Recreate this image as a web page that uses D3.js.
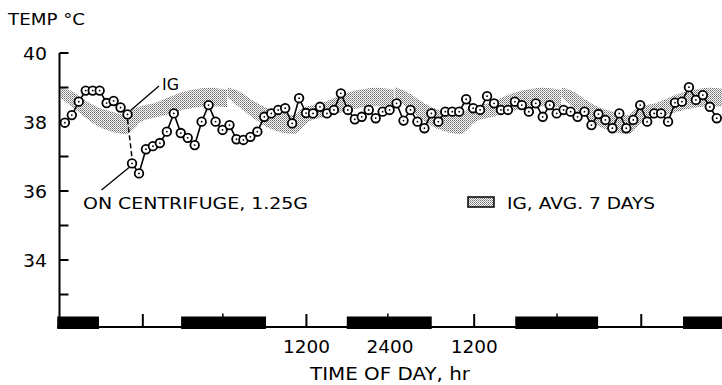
<!DOCTYPE html>
<html><head><meta charset="utf-8">
<script src="https://cdn.jsdelivr.net/npm/d3@7"></script>
<style>
html,body{margin:0;padding:0;background:#fff;}
svg{display:block;}
text{font-family:"DejaVu Sans",sans-serif;fill:#000;}
</style>
</head><body>
<svg id="chart" width="722" height="385"></svg>
<script>
// ---------- DATA ----------
// IG (1 G) readings before centrifugation, hours from midnight of day 1
const igHours = [1.1, 2.1, 3.1, 4.1, 5.1, 6.1, 7.1, 8.1, 9.1, 10.1];
const igTemps = [37.98, 38.20, 38.59, 38.91, 38.91, 38.91, 38.55, 38.61, 38.42, 38.22];

// On centrifuge 1.25 G, hourly readings
const centHours = [10.75, 11.75, 12.75, 13.75, 14.75, 15.75, 16.75, 17.75, 18.75, 19.75,
  20.75, 21.75, 22.75, 23.75, 24.75, 25.75, 26.75, 27.75, 28.75, 29.75,
  30.75, 31.75, 32.75, 33.75, 34.75, 35.75, 36.75, 37.75, 38.75, 39.75,
  40.75, 41.75, 42.75, 43.75, 44.75, 45.75, 46.75, 47.75, 48.75, 49.75,
  50.75, 51.75, 52.75, 53.75, 54.75, 55.75, 56.75, 57.75, 58.75, 59.75,
  60.75, 61.75, 62.75, 63.75, 64.75, 65.75, 66.75, 67.75, 68.75, 69.75,
  70.75, 71.75, 72.75, 73.75, 74.75, 75.75, 76.75, 77.75, 78.75, 79.75,
  80.75, 81.75, 82.75, 83.75, 84.75, 85.75, 86.75, 87.75, 88.75, 89.75,
  90.75, 91.75, 92.75, 93.75, 94.75];
const centTemps = [36.80, 36.51, 37.21, 37.30, 37.39, 37.72, 38.25, 37.68, 37.54, 37.33,
  38.01, 38.49, 38.01, 37.77, 37.91, 37.50, 37.48, 37.57, 37.72, 38.15,
  38.25, 38.35, 38.40, 37.96, 38.69, 38.26, 38.25, 38.44, 38.25, 38.35,
  38.83, 38.35, 38.08, 38.15, 38.35, 38.11, 38.30, 38.35, 38.54, 38.04,
  38.35, 38.01, 37.82, 38.25, 38.01, 38.30, 38.30, 38.30, 38.66, 38.40,
  38.35, 38.75, 38.54, 38.35, 38.35, 38.59, 38.49, 38.30, 38.54, 38.15,
  38.49, 38.25, 38.35, 38.30, 38.15, 38.30, 37.91, 38.23, 38.06, 37.82,
  38.25, 37.82, 38.06, 38.49, 38.01, 38.25, 38.25, 38.01, 38.56, 38.59,
  39.01, 38.64, 38.78, 38.44, 38.11];

// IG 7-day average daily profile (band), repeated each day
const bandProfileHours = [0.5, 2, 4, 6, 8, 10, 11, 12, 14, 16, 18, 20, 22, 24.4];
const bandHigh = [39.01, 38.90, 38.64, 38.41, 38.29, 38.20, 38.38, 38.46, 38.55, 38.72, 38.87, 38.96, 38.99, 38.93];
const bandLow  = [38.70, 38.46, 38.14, 37.86, 37.71, 37.65, 37.80, 38.00, 38.12, 38.23, 38.35, 38.43, 38.46, 38.43];
const bandDayOffsets = [0, 24, 48, 72];

// Light / dark schedule (hours)
const darkStarts = [0, 17.8, 41.6, 65.8, 89.9];
const darkEnds   = [6.0, 30.0, 53.8, 77.7, 96];
const noonMarks = [12.3, 35.8, 59.9, 83.9];
const midnightMarks = [23.8, 47.5, 71.8];

// Axis ticks & labels
const yMajorTicks = [34, 36, 38, 40];
const yMinorTicks = [33, 35, 37, 39];
const xLabelHours = [35.8, 47.8, 59.9];
const xLabelTexts = ["1200", "2400", "1200"];

// ---------- DRAW ----------
const svg = d3.select("#chart");
svg.append("rect").attr("width", 722).attr("height", 385).attr("fill", "#fff");

const x = d3.scaleLinear().domain([0, 95.5]).range([57.2, 722]);
const y = d3.scaleLinear().domain([32, 40]).range([329, 53]);

// stipple pattern
const defs = svg.append("defs");
const pat = defs.append("pattern").attr("id", "stip").attr("width", 2).attr("height", 2)
  .attr("patternUnits", "userSpaceOnUse");
pat.append("rect").attr("width", 2).attr("height", 2).attr("fill", "#fff");
pat.append("rect").attr("x", 0).attr("y", 0).attr("width", 1).attr("height", 1).attr("fill", "#6a6a6a").attr("shape-rendering", "crispEdges");
pat.append("rect").attr("x", 1).attr("y", 1).attr("width", 1).attr("height", 1).attr("fill", "#9a9a9a").attr("shape-rendering", "crispEdges");

// band
const bandPts = bandProfileHours.map((h, i) => ({h, hi: bandHigh[i], lo: bandLow[i]}));
const area = d3.area().x(d => x(d.h)).y0(d => y(d.lo)).y1(d => y(d.hi)).curve(d3.curveMonotoneX);
bandDayOffsets.forEach(off => {
  svg.append("path")
    .attr("d", area(bandPts.map(p => ({h: p.h + off, hi: p.hi, lo: p.lo}))))
    .attr("fill", "url(#stip)");
});

// Y axis
const yAxisX = 59.5;
svg.append("line").attr("x1", yAxisX).attr("x2", yAxisX).attr("y1", y(40)).attr("y2", y(32))
  .attr("stroke", "#000").attr("stroke-width", 2);
yMajorTicks.concat(yMinorTicks).forEach(t => {
  svg.append("line").attr("x1", yAxisX).attr("x2", yAxisX + 9).attr("y1", y(t)).attr("y2", y(t))
    .attr("stroke", "#000").attr("stroke-width", 2);
});
yMajorTicks.forEach(t => {
  svg.append("text").attr("x", 47).attr("y", y(t) + 6.5).attr("text-anchor", "end")
    .attr("font-size", 17).attr("textLength", 24).attr("lengthAdjust", "spacingAndGlyphs").text(t);
});
svg.append("text").attr("x", 8).attr("y", 25).attr("font-size", 16)
  .attr("textLength", 77).attr("lengthAdjust", "spacingAndGlyphs").text("TEMP °C");

// light/dark bar
svg.append("line").attr("x1", x(0)).attr("x2", 722).attr("y1", 327).attr("y2", 327)
  .attr("stroke", "#000").attr("stroke-width", 2);
darkStarts.forEach((s, i) => {
  svg.append("rect").attr("x", x(s)).attr("y", 316.5)
    .attr("width", x(darkEnds[i]) - x(s)).attr("height", 12.5).attr("fill", "#000");
});
noonMarks.forEach(h => {
  svg.append("line").attr("x1", x(h)).attr("x2", x(h)).attr("y1", 314).attr("y2", 327)
    .attr("stroke", "#000").attr("stroke-width", 2);
});
midnightMarks.forEach(h => {
  svg.append("line").attr("x1", x(h)).attr("x2", x(h)).attr("y1", 313.5).attr("y2", 317)
    .attr("stroke", "#000").attr("stroke-width", 1.5);
});
xLabelHours.forEach((h, i) => {
  svg.append("text").attr("x", x(h)).attr("y", 353).attr("text-anchor", "middle")
    .attr("font-size", 17).attr("textLength", 47).attr("lengthAdjust", "spacingAndGlyphs").text(xLabelTexts[i]);
});
svg.append("text").attr("x", 390).attr("y", 380).attr("text-anchor", "middle")
  .attr("font-size", 17).attr("textLength", 160).attr("lengthAdjust", "spacingAndGlyphs").text("TIME OF DAY, hr");

// series lines
const line = d3.line().x(d => x(d.h)).y(d => y(d.t));
const igPts = igHours.map((h, i) => ({h, t: igTemps[i]}));
const centPts = centHours.map((h, i) => ({h, t: centTemps[i]}));
[igPts, centPts].forEach(pts => {
  svg.append("path").attr("d", line(pts)).attr("fill", "none")
    .attr("stroke", "#000").attr("stroke-width", 1.6);
});

// dashed connector IG -> centrifuge
const igLast = igPts[igPts.length - 1], c0 = centPts[0];
svg.append("line").attr("x1", x(igLast.h)).attr("y1", y(igLast.t) + 5)
  .attr("x2", x(c0.h)).attr("y2", y(c0.t) - 5)
  .attr("stroke", "#000").attr("stroke-width", 1.5).attr("stroke-dasharray", "5,3");

// points
[igPts, centPts].forEach(pts => {
  const g = svg.append("g");
  g.selectAll("circle.o").data(pts).join("circle").attr("class", "o")
    .attr("cx", d => x(d.h)).attr("cy", d => y(d.t)).attr("r", 4.3)
    .attr("fill", "#fff").attr("stroke", "#000").attr("stroke-width", 1.8);
  g.selectAll("circle.c").data(pts).join("circle").attr("class", "c")
    .attr("cx", d => x(d.h)).attr("cy", d => y(d.t)).attr("r", 0.9).attr("fill", "#000");
});

// annotations
svg.append("line").attr("x1", x(igLast.h) + 3).attr("y1", y(igLast.t) - 4)
  .attr("x2", 159).attr("y2", 86).attr("stroke", "#000").attr("stroke-width", 1.3);
svg.append("text").attr("x", 162).attr("y", 89.5).attr("font-size", 16)
  .attr("textLength", 17).attr("lengthAdjust", "spacingAndGlyphs").text("IG");
svg.append("line").attr("x1", x(c0.h) - 3).attr("y1", y(c0.t) + 4)
  .attr("x2", 101.5).attr("y2", 190).attr("stroke", "#000").attr("stroke-width", 1.3);
svg.append("text").attr("x", 83).attr("y", 208.5).attr("font-size", 16)
  .attr("textLength", 225).attr("lengthAdjust", "spacingAndGlyphs").text("ON CENTRIFUGE, 1.25G");

// legend
svg.append("rect").attr("x", 468).attr("y", 197).attr("width", 26).attr("height", 10)
  .attr("fill", "url(#stip)").attr("stroke", "#000").attr("stroke-width", 1.5);
svg.append("text").attr("x", 507).attr("y", 208.5).attr("font-size", 16)
  .attr("textLength", 148).attr("lengthAdjust", "spacingAndGlyphs").text("IG, AVG. 7 DAYS");
</script>
</body></html>
